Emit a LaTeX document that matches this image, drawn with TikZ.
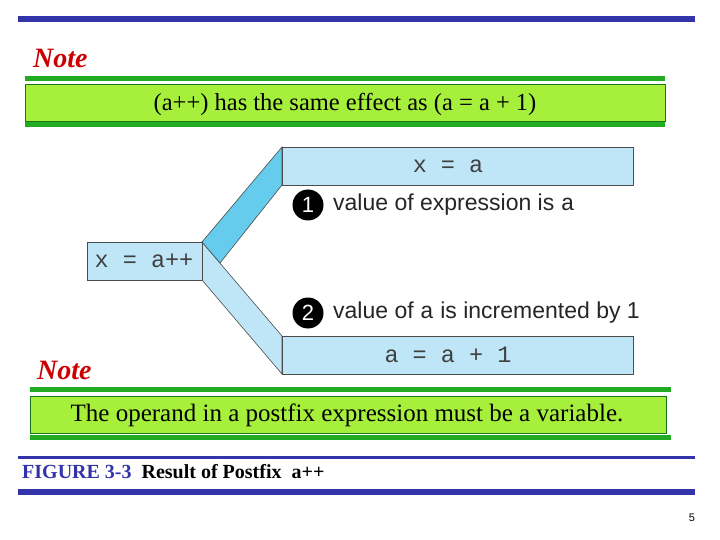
\documentclass[tikz,border=0pt]{standalone}
\usepackage{fontspec}
\setmainfont{Liberation Serif}
\setsansfont{Liberation Sans}
\setmonofont{Liberation Mono}
\definecolor{barblue}{HTML}{3333AA}
\definecolor{gline}{HTML}{22AA22}
\definecolor{gfill}{HTML}{A6F03C}
\definecolor{lblue}{HTML}{BEE6F7}
\definecolor{mblue}{HTML}{66CCEE}
\definecolor{notered}{HTML}{CC0000}
\begin{document}
\begin{tikzpicture}[x=1pt,y=-1pt,
  note/.style={text=notered,font=\fontsize{28}{28}\selectfont\bfseries\itshape,anchor=west,inner sep=0pt},
  gbox/.style={fill=gfill,draw=gline!70!black,line width=0.6pt},
  cbox/.style={fill=lblue,draw=black!70,line width=0.6pt},
  mono/.style={font=\fontsize{23.5}{23.5}\selectfont\ttfamily,text=black!75},
  sans/.style={font=\fontsize{23}{23}\selectfont\sffamily,text=black!85,anchor=west,inner sep=0pt},
  num/.style={circle,fill=black,text=white,inner sep=0pt,minimum size=31pt,font=\fontsize{22}{22}\selectfont\sffamily}]
\useasboundingbox (0,0) rectangle (720,540);
\fill[white] (0,0) rectangle (720,540);
% top bars
\fill[barblue] (18,16) rectangle (695,22);
\node[note] (n1) at (33,58) {Note};
\fill[gline] (25,76) rectangle (665,81);
\draw[gbox] (25,84) rectangle (665,121);
\fill[gline] (25,122) rectangle (665,127);
\node[font=\fontsize{24.5}{24.5}\selectfont] (t1) at (345,104) {(a++) has the same effect as (a = a + 1)};
% diagram
\draw[cbox] (202,242) -- (282,336) -- (282,374) -- (202,280) -- cycle;
\draw[fill=mblue,draw=black!70,line width=0.6pt] (202,242) -- (282,147) -- (282,185) -- (220,263) -- cycle;
\draw[cbox] (87,242) rectangle (202,280);
\draw[cbox] (282,147) rectangle (633,185);
\draw[cbox] (282,336) rectangle (633,374);
\node[mono] (l) at (144,261) {x = a++};
\node[mono] (u) at (448,166) {x = a};
\node[mono] (d) at (448,355) {a = a + 1};
\node[num] (c1) at (308,205) {1};
\node[sans] (s1) at (333,205) {value of expression is {\ttfamily a}};
\node[num] (c2) at (308,313) {2};
\node[sans] (s2) at (333,313) {value of {\ttfamily a} is incremented by 1};
% second note
\node[note] (n2) at (37,370) {Note};
\fill[gline] (30,387) rectangle (671,392);
\draw[gbox] (30,396) rectangle (666,433);
\fill[gline] (30,435) rectangle (671,440);
\node[font=\fontsize{25}{25}\selectfont] (t2) at (347,415) {The operand in a postfix expression must be a variable.};
% caption
\fill[barblue] (18,456) rectangle (695,459);
\node[anchor=west,inner sep=0pt,font=\fontsize{20}{20}\selectfont\bfseries] (cap) at (22,472) {\textcolor{barblue}{FIGURE 3-3}\ \ Result of Postfix\ \ a++};
\fill[barblue] (18,489) rectangle (695,495);
\node[font=\fontsize{11}{11}\selectfont\sffamily] (pg) at (692,518) {5};
\end{tikzpicture}
\end{document}
